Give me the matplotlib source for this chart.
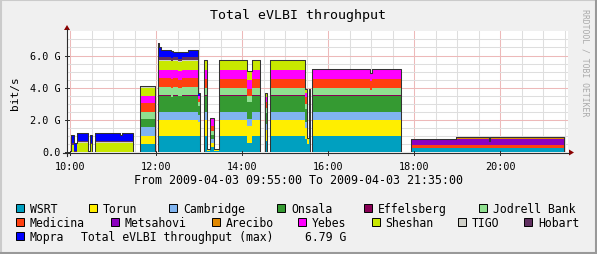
import matplotlib
matplotlib.use('Agg')
import matplotlib.pyplot as plt
import numpy as np
from matplotlib.patches import Rectangle, Polygon
from matplotlib.lines import Line2D
import matplotlib.transforms as mtransforms

# ---------------- data (Gbit/s, piecewise constant from each time) ----------------
times = ["09:55", "10:01", "10:05", "10:10", "10:25", "10:28", "10:31", "10:35", "11:10", "11:12",
         "11:28", "11:37", "11:58", "12:02", "12:04", "12:07", "12:20", "12:24", "12:30", "12:36",
         "12:44", "12:52", "12:58", "13:01", "13:07", "13:11", "13:15", "13:21", "13:27", "14:07",
         "14:14", "14:25", "14:32", "14:35", "14:39", "15:27", "15:30", "15:33", "15:35", "15:38",
         "16:59", "17:01", "17:41", "17:56", "18:58", "19:44", "19:46", "21:29", "21:35"]

wsrt = [0, 0, 0, 0, 0, 0, 0, 0, 0, 0,
        0, .50, 0, 1.03, 1.03, 1.03, 1.03, 1.03, 1.03, 1.03,
        1.03, 1.03, 1.00, 0, 1.03, .10, .30, .10, 1.03, .60,
        1.03, 0, .70, 0, 1.03, .80, .50, .80, 0, 1.03,
        1.03, 1.03, 0, .25, .25, .25, .25, 0, 0]
torun = [0, 0, 0, 0, 0, 0, 0, 0, 0, 0,
         0, .53, 0, 1.00, 1.00, 1.00, 1.00, 1.00, 1.00, 1.00,
         1.00, 1.00, .90, 0, 1.00, .10, .30, .10, 1.00, 1.00,
         1.00, 0, .70, 0, 1.00, .70, .40, .70, 0, 1.00,
         1.00, 1.00, 0, 0, 0, 0, 0, 0, 0]
cambridge = [0, 0, 0, 0, 0, 0, 0, 0, 0, 0,
             0, .52, 0, .49, .49, .49, .49, .49, .49, .49,
             .49, .49, .40, 0, .49, 0, .20, 0, .49, .49,
             .49, 0, .35, 0, .49, .40, 0, .40, 0, .49,
             .49, .49, 0, 0, 0, 0, 0, 0, 0]
onsala = [0, 0, 0, 0, 0, 0, 0, 0, 0, 0,
          0, .52, 0, 1.00, 1.00, 1.00, .90, 1.00, .95, 1.00,
          1.00, 1.00, .60, 0, 1.00, 0, .30, 0, 1.00, 1.00,
          1.00, 0, .70, 0, 1.00, .80, 0, .80, 0, 1.00,
          1.00, 1.00, 0, 0, 0, 0, 0, 0, 0]
effelsberg = [0, 0, 0, 0, 0, 0, 0, 0, 0, 0,
              0, .02, 0, .02, .02, .02, .02, .02, .02, .02,
              .02, .02, 0, 0, .02, 0, 0, 0, .02, .02,
              .02, 0, 0, 0, .02, 0, 0, 0, 0, .02,
              .02, .02, 0, 0, 0, 0, 0, 0, 0]
jodrell = [0, 0, 0, 0, 0, 0, 0, 0, 0, 0,
           0, .39, 0, .50, .50, .50, .55, .50, .50, .50,
           .50, .50, .20, 0, .46, 0, .20, 0, .46, .35,
           .46, 0, .30, 0, .46, .30, 0, .30, 0, .46,
           .30, .46, 0, 0, 0, 0, 0, 0, 0]
medicina = [0, 0, 0, 0, 0, 0, 0, 0, 0, 0,
            0, .60, 0, .56, .56, .56, .56, .56, .50, .56,
            .56, .56, .20, 0, .55, 0, .30, 0, .55, .45,
            .55, 0, .35, 0, .55, .40, 0, .40, 0, .55,
            .55, .55, 0, .21, .21, .21, .21, 0, 0]
metsahovi = [0, 0, 0, 0, 0, 0, 0, 0, 0, 0,
             0, 0, 0, 0, 0, 0, 0, 0, 0, 0,
             0, 0, 0, 0, 0, 0, 0, 0, 0, 0,
             0, 0, 0, 0, 0, 0, 0, 0, 0, 0,
             0, 0, 0, .37, .37, .25, .37, 0, 0]
arecibo = [0, 0, 0, 0, 0, 0, 0, 0, 0, 0,
           0, 0, 0, 0, 0, 0, 0, 0, 0, 0,
           0, 0, 0, 0, 0, 0, 0, 0, 0, 0,
           0, 0, 0, 0, 0, 0, 0, 0, 0, 0,
           0, 0, 0, 0, .14, 0, .14, 0, 0]
yebes = [0, 0, 0, 0, 0, 0, 0, 0, 0, 0,
         0, .42, 0, .53, .53, .53, .53, .53, .53, .53,
         .53, .53, .20, 0, .55, 0, .50, 0, .55, .55,
         .55, 0, .30, 0, .55, .30, 0, .30, 0, .57,
         .50, .57, 0, 0, 0, 0, 0, 0, 0]
sheshan = [0, .45, 0, .60, .08, .50, 0, .60, .60, .60,
           0, .50, 0, .56, .56, .56, .56, .56, .56, .56,
           .56, .56, 0, 0, .56, 0, 0, 0, .56, .56,
           .56, 0, .30, 0, .56, .20, 0, .20, 0, 0,
           0, 0, 0, 0, 0, 0, 0, 0, 0]
tigo = [0, 0, 0, .03, 0, 0, 0, .03, .03, .03,
        0, .03, 0, .05, .05, .05, .05, .05, .05, .05,
        .05, .05, 0, 0, .02, 0, 0, 0, .02, .02,
        .02, 0, 0, 0, .02, 0, 0, 0, 0, 0,
        0, 0, 0, 0, 0, 0, 0, 0, 0]
hobart = [0, .10, .10, .10, 0, .10, 0, .10, .10, .10,
          0, .07, 0, .15, .15, .15, .15, .15, .15, .15,
          .15, .15, 0, 0, .02, 0, 0, 0, .02, .02,
          .02, 0, 0, 0, .02, 0, 0, 0, 0, .05,
          .05, .05, 0, .02, 0, 0, 0, 0, 0]
mopra = [0, .55, .50, .45, 0, .50, 0, .45, .37, .45,
         0, 0, 0, .90, .65, .45, .43, .35, .44, .35,
         .42, .45, .20, 0, 0, 0, 0, 0, 0, 0,
         0, 0, 0, 0, 0, 0, 0, 0, 0, 0,
         0, 0, 0, 0, 0, 0, 0, 0, 0]

stations = ["WSRT", "Torun", "Cambridge", "Onsala", "Effelsberg", "Jodrell Bank",
            "Medicina", "Metsahovi", "Arecibo", "Yebes", "Sheshan", "TIGO", "Hobart", "Mopra"]
series = [wsrt, torun, cambridge, onsala, effelsberg, jodrell, medicina,
          metsahovi, arecibo, yebes, sheshan, tigo, hobart, mopra]
colors = ["#00A0C0", "#FFEE00", "#80B4F0", "#359A32", "#880055", "#90E090", "#FF4010",
          "#8C00C0", "#E08800", "#FF00FF", "#C8E800", "#D0D0C8", "#603060", "#0000FF"]

y_ticks = [0, 2, 4, 6]
y_tick_labels = ["0.0", "2.0 G", "4.0 G", "6.0 G"]
x_ticks = [10, 12, 14, 16, 18, 20]
x_tick_labels = ["10:00", "12:00", "14:00", "16:00", "18:00", "20:00"]
max_label = "6.79 G"

# ---------------- figure ----------------
W, H = 597, 255
fig = plt.figure(figsize=(W / 100, H / 100), dpi=100, facecolor='#F0F0F0')
MONO = 'DejaVu Sans Mono'


def fx(x):
    return x / W


def fy(y):
    return 1 - y / H


X0, X1 = 66.6, 568.3
Y0, Y1 = 153.3, 32.3
ax = fig.add_axes([fx(X0), fy(Y0), (X1 - X0) / W, (Y0 - Y1) / H])
tstart, tend = 9 + 55 / 60, 21 + 35 / 60
ax.set_xlim(tstart, tend)
ax.set_ylim(0, 7.5)
ax.set_facecolor('white')
for s in ax.spines.values():
    s.set_visible(False)
ax.set_xticks([])
ax.set_yticks([])

# grid
for h in np.arange(10, 21.51, 0.5):
    major = abs(h - round(h / 2) * 2) < 1e-6
    ax.axvline(h, color='#EDB9B9' if major else '#DEDEDE', lw=0.75, zorder=0.5)
for v in np.arange(0.5, 7.01, 0.5):
    major = abs(v - round(v / 2) * 2) < 1e-6
    ax.axhline(v, color='#EDB9B9' if major else '#DEDEDE', lw=0.75, zorder=0.5)

# data
x = np.array([int(t[:2]) + int(t[3:]) / 60 for t in times])
cum = np.zeros(len(x))
for vals, c in zip(series, colors):
    v = np.array(vals, dtype=float)
    ax.fill_between(x, cum, cum + v, step='post', color=c, lw=0, antialiased=False, zorder=2)
    cum = cum + v
ax.step(x, cum, where='post', color='#333333', lw=0.75, zorder=3)

# axes lines and arrows
axis_c = '#2C2C2C'
fig.add_artist(Line2D([fx(63), fx(569)], [fy(153.5), fy(153.5)], color=axis_c, lw=0.8))
fig.add_artist(Line2D([fx(67), fx(67)], [fy(157), fy(30)], color=axis_c, lw=0.8))
fig.add_artist(Polygon([(fx(569), fy(150.5)), (fx(574), fy(153.5)), (fx(569), fy(156.5))],
                       closed=True, color='#8B0000', lw=0))
fig.add_artist(Polygon([(fx(64), fy(31)), (fx(67), fy(26)), (fx(70), fy(31))],
                       closed=True, color='#8B0000', lw=0))

# tick labels
tx = mtransforms.blended_transform_factory(ax.transData, fig.transFigure)
ty = mtransforms.blended_transform_factory(fig.transFigure, ax.transData)
for h, lab in zip(x_ticks, x_tick_labels):
    fig.text(h, fy(167), lab, transform=tx, ha='center', va='center', family=MONO, size=7.3)
    fig.add_artist(Line2D([h, h], [fy(152), fy(155.5)], transform=tx, color=axis_c, lw=0.7))
for v, lab in zip(y_ticks, y_tick_labels):
    fig.text(fx(61), v, lab, transform=ty, ha='right', va='center', family=MONO, size=7.3)
    fig.add_artist(Line2D([fx(64.5), fx(68.5)], [v, v], transform=ty, color=axis_c, lw=0.7))

# titles
fig.text(fx(298.5), fy(16), 'Total eVLBI throughput', ha='center', va='center', family=MONO, size=9.5)
fig.text(fx(15), fy(93), 'bit/s', ha='center', va='center', rotation=90, family=MONO, size=8)
fig.text(fx(298.5), fy(181), 'From 2009-04-03 09:55:00 To 2009-04-03 21:35:00',
         ha='center', va='center', family=MONO, size=8.4)
fig.text(fx(585.5), fy(63), 'RRDTOOL / TOBI OETIKER', ha='center', va='center', rotation=270,
         family=MONO, size=5.9, color='#AAAAAA')

# legend
rows = [209.3, 223.3, 237.3]
leg_pos = [(16, 0), (89, 0), (169, 0), (277, 0), (364, 0), (479, 0),
           (16, 1), (110.5, 1), (211.5, 1), (298, 1), (371.5, 1), (458, 1), (524, 1),
           (16, 2)]
for (sx, r), name, c in zip(leg_pos, stations, colors):
    yc = rows[r]
    fig.add_artist(Rectangle((fx(sx), fy(yc + 4)), 8 / W, 8 / H, facecolor=c,
                             edgecolor='black', lw=0.7))
    fig.text(fx(sx + 14), fy(yc), name, ha='left', va='center', family=MONO, size=8.3)
fig.text(fx(81), fy(rows[2]), 'Total eVLBI throughput (max)', ha='left', va='center', family=MONO, size=8.3)
fig.text(fx(305), fy(rows[2]), max_label, ha='left', va='center', family=MONO, size=8.3)

# frame
fig.add_artist(Line2D([0, 1], [fy(0.8), fy(0.8)], color='#CBCBCB', lw=1.5))
fig.add_artist(Line2D([fx(0.8), fx(0.8)], [0, 1], color='#CBCBCB', lw=1.5))
fig.add_artist(Line2D([0, 1], [fy(254.2), fy(254.2)], color='#999999', lw=1.5))
fig.add_artist(Line2D([fx(596.2), fx(596.2)], [0, 1], color='#999999', lw=1.5))

fig.savefig('out.png', dpi=100, facecolor=fig.get_facecolor())
